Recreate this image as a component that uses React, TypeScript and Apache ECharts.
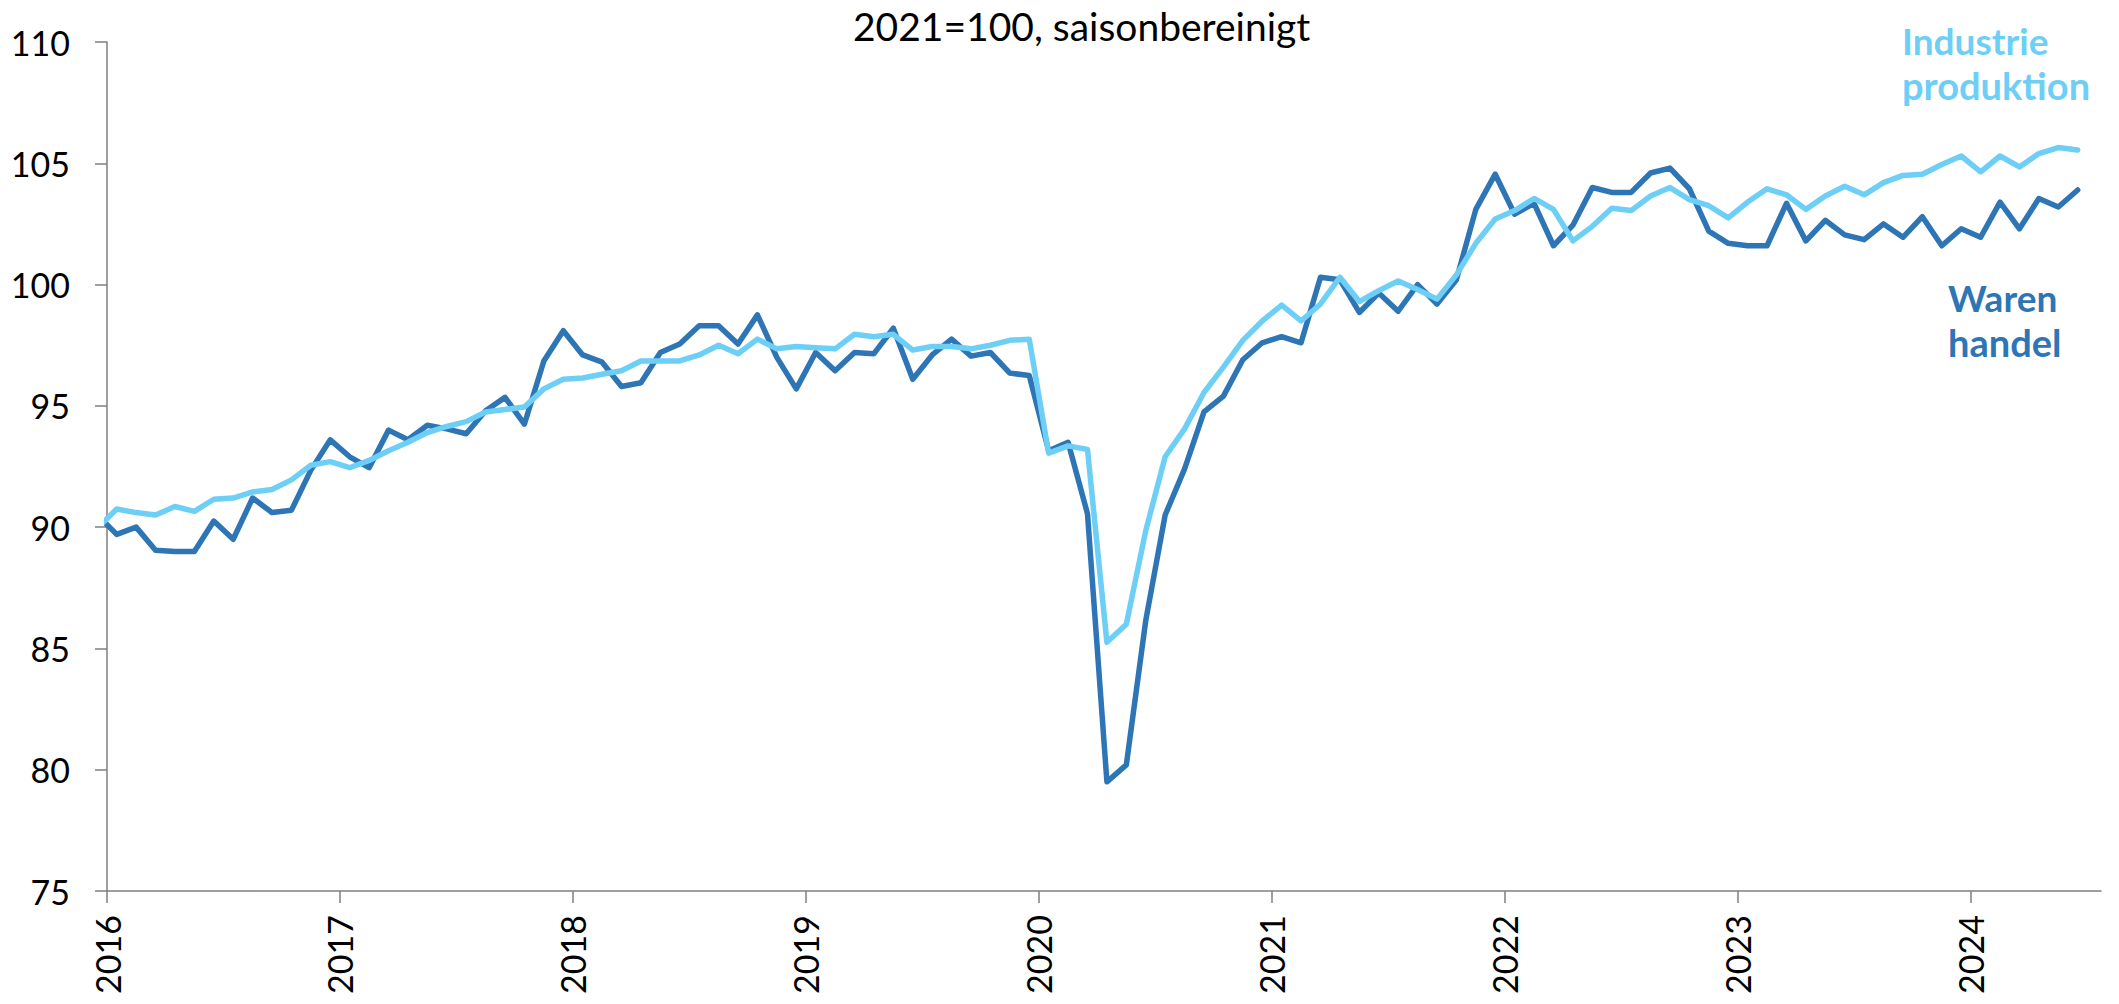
import React, { useEffect, useRef } from "react";
import * as echarts from "echarts";

// Monthly observations, Dec 2015 .. Jun 2024 (Dec 2015 is cut off by the axis start)
const FIRST_YEAR = 2015;
const FIRST_MONTH = 12;
const warenhandel: number[] = [
  90.5,
  89.7, 90.0, 89.05, 89.0, 89.0, 90.25, 89.5, 91.2, 90.6, 90.7, 92.35, 93.6,
  92.9, 92.45, 94.0, 93.6, 94.2, 94.05, 93.85, 94.8, 95.35, 94.25, 96.85, 98.1,
  97.1, 96.8, 95.8, 95.95, 97.2, 97.55, 98.3, 98.3, 97.55, 98.75, 97.0, 95.7,
  97.2, 96.45, 97.2, 97.15, 98.2, 96.1, 97.1, 97.75, 97.05, 97.2, 96.35, 96.25,
  93.15, 93.5, 90.55, 79.5, 80.2, 86.15, 90.5, 92.4, 94.75, 95.4, 96.9, 97.6,
  97.85, 97.6, 100.3, 100.2, 98.85, 99.65, 98.9, 100.0, 99.2, 100.2, 103.1, 104.55,
  102.9, 103.35, 101.6, 102.45, 104.0, 103.8, 103.8, 104.6, 104.8, 103.95, 102.2, 101.7,
  101.6, 101.6, 103.35, 101.8, 102.65, 102.05, 101.85, 102.5, 101.95, 102.8, 101.6, 102.3,
  101.95, 103.4, 102.3, 103.55, 103.2, 103.9,
];
const industrieproduktion: number[] = [
  89.95,
  90.75, 90.6, 90.5, 90.85, 90.65, 91.15, 91.2, 91.45, 91.55, 91.95, 92.55, 92.7,
  92.45, 92.75, 93.15, 93.5, 93.9, 94.15, 94.35, 94.75, 94.85, 94.95, 95.7, 96.1,
  96.15, 96.3, 96.45, 96.85, 96.85, 96.85, 97.1, 97.5, 97.15, 97.75, 97.35, 97.45,
  97.4, 97.35, 97.95, 97.85, 97.95, 97.3, 97.45, 97.45, 97.35, 97.5, 97.7, 97.75,
  93.05, 93.35, 93.2, 85.25, 86.0, 89.85, 92.9, 94.05, 95.55, 96.6, 97.7, 98.5,
  99.15, 98.5, 99.2, 100.3, 99.3, 99.75, 100.15, 99.8, 99.4, 100.4, 101.7, 102.7,
  103.05, 103.55, 103.1, 101.8, 102.4, 103.15, 103.05, 103.65, 104.0, 103.5, 103.25, 102.75,
  103.4, 103.95, 103.7, 103.1, 103.65, 104.05, 103.7, 104.2, 104.5, 104.55, 104.95, 105.3,
  104.65, 105.3, 104.85, 105.4, 105.65, 105.55,
];
const yearLabels: number[] = [2016, 2017, 2018, 2019, 2020, 2021, 2022, 2023, 2024];
const yTicks = { min: 75, max: 110, step: 5 };
const AXIS_END_MONTHS = 102.7; // axis end, in months after Jan 2016
const TITLE = "2021=100, saisonbereinigt";

const DARK = "#2E75B6";
const LIGHT = "#6DCFF6";
const FONT = "Lato";

// month position (months since 1 Jan 2016, mid-month)
const monthPos = (i: number) => {
  const total = (FIRST_YEAR - 2016) * 12 + (FIRST_MONTH - 1) + i;
  return total + 0.5;
};
const toSeries = (vals: number[]) => vals.map((v, i) => [monthPos(i), v]);

export default function App() {
  const ref = useRef<HTMLDivElement>(null);
  useEffect(() => {
    if (!ref.current) return;
    const chart = echarts.init(ref.current, undefined, { renderer: "svg" });
    const tickVals = yearLabels.map((y) => (y - 2016) * 12);
    chart.setOption({
      animation: false,
      backgroundColor: "#ffffff",
      textStyle: { fontFamily: FONT },
      grid: { left: 107, right: 18, top: 42, bottom: 113, containLabel: false },
      xAxis: {
        type: "value",
        min: 0,
        max: AXIS_END_MONTHS,
        interval: 12,
        splitLine: { show: false },
        axisLine: { show: true, lineStyle: { color: "#7F7F7F", width: 1.5 } },
        axisTick: {
          show: true,
          length: 12,
          inside: false,
          customValues: tickVals,
          lineStyle: { color: "#7F7F7F", width: 1.5 },
        },
        axisLabel: {
          customValues: tickVals,
          rotate: 90,
          margin: 24,
          fontSize: 34,
          fontFamily: FONT,
          color: "#000000",
          padding: [16, 0, 0, 0],
          formatter: (v: number) => String(2016 + Math.round(v / 12)),
        },
      },
      yAxis: {
        type: "value",
        min: yTicks.min,
        max: yTicks.max,
        interval: yTicks.step,
        splitLine: { show: false },
        axisLine: { show: true, lineStyle: { color: "#7F7F7F", width: 1.5 } },
        axisTick: { show: true, length: 12, inside: false, lineStyle: { color: "#7F7F7F", width: 1.5 } },
        axisLabel: { margin: 37, fontSize: 34, fontFamily: FONT, color: "#000000" },
      },
      series: [
        {
          name: "Warenhandel",
          type: "line",
          data: toSeries(warenhandel),
          showSymbol: false,
          symbol: "none",
          clip: true,
          lineStyle: { color: DARK, width: 5.5, cap: "round", join: "round" },
          z: 2,
        },
        {
          name: "Industrieproduktion",
          type: "line",
          data: toSeries(industrieproduktion),
          showSymbol: false,
          symbol: "none",
          clip: true,
          lineStyle: { color: LIGHT, width: 5.5, cap: "round", join: "round" },
          z: 3,
        },
      ],
      graphic: [
        {
          type: "text",
          left: 853,
          top: 6,
          style: { text: TITLE, font: `39px ${FONT}`, fill: "#000000" },
        },
        {
          type: "text",
          left: 1902,
          top: 22,
          style: { text: "Industrie", font: `bold 37px ${FONT}`, fill: LIGHT },
        },
        {
          type: "text",
          left: 1902,
          top: 66,
          style: { text: "produktion", font: `bold 38px ${FONT}`, fill: LIGHT },
        },
        {
          type: "text",
          left: 1948,
          top: 279,
          style: { text: "Waren", font: `bold 37px ${FONT}`, fill: DARK },
        },
        {
          type: "text",
          left: 1948,
          top: 323,
          style: { text: "handel", font: `bold 38px ${FONT}`, fill: DARK },
        },
      ],
    });
    return () => chart.dispose();
  }, []);
  return (
    <div
      ref={ref}
      style={{ position: "fixed", left: 0, top: 0, width: 2119, height: 1004, background: "#fff" }}
    />
  );
}
